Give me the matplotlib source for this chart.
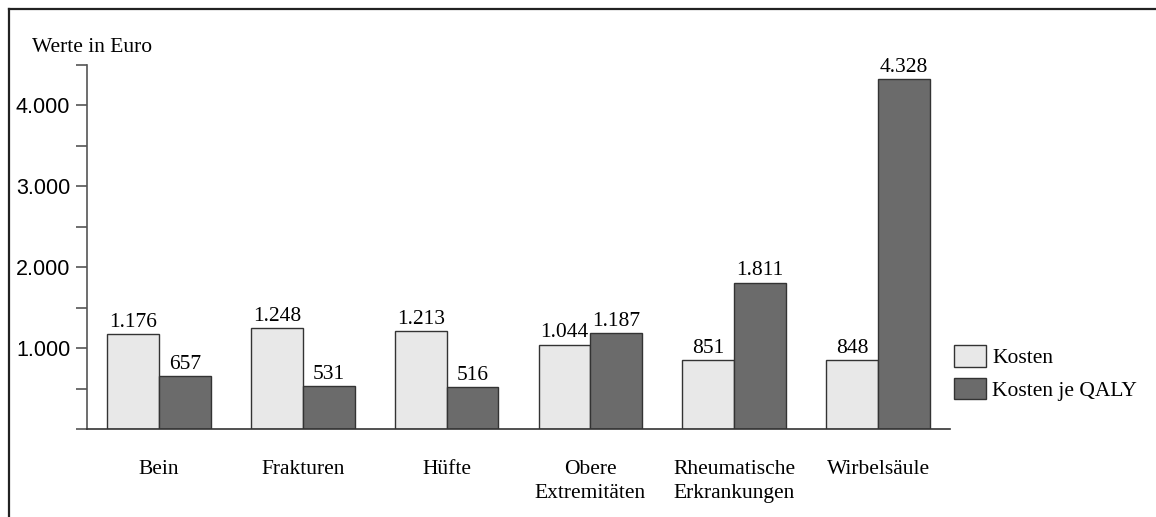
import matplotlib
matplotlib.use("Agg")
import matplotlib.pyplot as plt
from matplotlib.lines import Line2D
from matplotlib.patches import Patch
import numpy as np

categories = ["Bein", "Frakturen", "Hüfte", "Obere\nExtremitäten",
              "Rheumatische\nErkrankungen", "Wirbelsäule"]
kosten = [1176, 1248, 1213, 1044, 851, 848]
kosten_je_qaly = [657, 531, 516, 1187, 1811, 4328]
series_names = ["Kosten", "Kosten je QALY"]
y_major = [1000, 2000, 3000, 4000]
y_minor = [500, 1500, 2500, 3500, 4500]

SERIF = ["Liberation Serif", "DejaVu Serif"]
SANS = ["Liberation Sans", "DejaVu Sans"]
FS = 15.5
LIGHT = "#e8e8e8"
DARK = "#6b6b6b"
EDGE = "#333333"
AXC = "#555555"


def de_format(v):
    return f"{v:,.0f}".replace(",", ".")


fig = plt.figure(figsize=(11.56, 5.17), dpi=100)
ax = fig.add_axes([87 / 1156, 1 - 429 / 517, (950 - 87) / 1156, (429 - 65) / 517])

x = np.arange(len(categories))
w = 0.36
b1 = ax.bar(x - w / 2, kosten, w, color=LIGHT, edgecolor=EDGE, linewidth=1.0, zorder=2)
b2 = ax.bar(x + w / 2, kosten_je_qaly, w, color=DARK, edgecolor=EDGE, linewidth=1.0, zorder=2)

for bars, vals in ((b1, kosten), (b2, kosten_je_qaly)):
    for rect, v in zip(bars, vals):
        ax.annotate(de_format(v), (rect.get_x() + rect.get_width() / 2, v),
                    xytext=(0, 1.5), textcoords="offset points",
                    ha="center", va="bottom", fontsize=FS, family=SERIF)

ax.set_xlim(-0.5, len(categories) - 0.5)
ax.set_ylim(0, 4500)

for s in ("top", "right"):
    ax.spines[s].set_visible(False)
for s in ("left", "bottom"):
    ax.spines[s].set_color(AXC)
    ax.spines[s].set_linewidth(1.2)
ax.spines["bottom"].set_color("#333333")

ax.set_yticks(y_major)
ax.set_yticklabels([de_format(v) for v in y_major], fontsize=FS, family=SANS)
ax.set_yticks(y_minor + [0], minor=True)
ax.tick_params(axis="y", which="both", direction="out", length=8, width=1.2,
               color=AXC, pad=4)

ax.set_xticks(x)
ax.set_xticklabels(categories, fontsize=FS, family=SERIF, linespacing=1.4)
ax.tick_params(axis="x", length=0, pad=22)

fig.text(32 / 1156, 1 - 48 / 517, "Werte in Euro", fontsize=FS, family=SERIF,
         ha="left", va="center")

handles = [Patch(facecolor=LIGHT, edgecolor=EDGE, linewidth=1.0),
           Patch(facecolor=DARK, edgecolor=EDGE, linewidth=1.0)]
fig.legend(handles, series_names, loc="upper left",
           bbox_to_anchor=(950 / 1156, 1 - 341 / 517), frameon=False,
           prop={"family": SERIF, "size": FS}, handlelength=1.45,
           handleheight=1.15, handletextpad=0.3, labelspacing=0.45,
           borderaxespad=0, borderpad=0.2)

# outer frame lines along the top and left edges
fig.add_artist(Line2D([9 / 1156, 1], [1 - 9 / 517, 1 - 9 / 517],
                      transform=fig.transFigure, color="#222222", linewidth=1.6))
fig.add_artist(Line2D([9 / 1156, 9 / 1156], [0, 1 - 9 / 517],
                      transform=fig.transFigure, color="#222222", linewidth=1.6))

fig.savefig("out.png", dpi=100)
